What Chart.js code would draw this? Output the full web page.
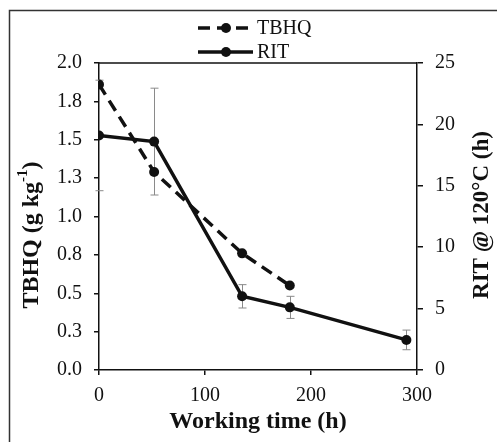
<!DOCTYPE html>
<html>
<head>
<meta charset="utf-8">
<script src="https://cdn.jsdelivr.net/npm/chart.js@4.4.1/dist/chart.umd.min.js"></script>
<style>
  html, body { margin: 0; padding: 0; background: #fff; overflow: hidden; }
  #wrap { width: 497px; height: 442px; }
  canvas { display: block; }
</style>
</head>
<body>
<div id="wrap"><canvas id="cv" width="497" height="442"></canvas></div>
<script>
  // data
  const tbhqHours = [0, 52, 135, 180];
  const tbhqValues = [1.86, 1.29, 0.76, 0.55];
  const ritHours = [0, 52, 135, 180, 290];
  const ritValues = [19.1, 18.6, 6.0, 5.1, 2.45];
  const ritErrors = [4.5, 4.35, 0.95, 0.9, 0.8];
  const tbhqTickLabels = ['0.0', '0.3', '0.5', '0.8', '1.0', '1.3', '1.5', '1.8', '2.0'];
  const legendNames = ['TBHQ', 'RIT'];

  const SERIF = "'Liberation Serif', 'Times New Roman', serif";
  const INK = '#111';

  const toPts = (xs, ys) => xs.map((x, i) => ({ x, y: ys[i] }));

  // gray error bars on RIT, drawn under the lines
  const errorBars = {
    id: 'errorBars',
    beforeDatasetsDraw(chart) {
      const { ctx } = chart;
      const xs = chart.scales.x, ys = chart.scales.y1;
      ctx.save();
      ctx.strokeStyle = '#8a8a8a';
      ctx.lineWidth = 1;
      ritHours.forEach((h, i) => {
        const px = Math.round(xs.getPixelForValue(h)) + 0.5;
        const top = ys.getPixelForValue(ritValues[i] + ritErrors[i]);
        const bot = ys.getPixelForValue(ritValues[i] - ritErrors[i]);
        ctx.beginPath();
        ctx.moveTo(px, top); ctx.lineTo(px, bot);
        ctx.moveTo(px - 4, top); ctx.lineTo(px + 4, top);
        ctx.moveTo(px - 4, bot); ctx.lineTo(px + 4, bot);
        ctx.stroke();
      });
      ctx.restore();
    },
  };

  // frame, top line of the plot box, legend and axis titles
  const decor = {
    id: 'decor',
    afterDraw(chart) {
      const { ctx, chartArea: a } = chart;
      ctx.save();
      ctx.fillStyle = '#fff';
      ctx.fillRect(494, 0, 3, 442);

      ctx.strokeStyle = '#333';
      ctx.lineWidth = 1.5;
      ctx.beginPath();
      ctx.moveTo(9.5, 442); ctx.lineTo(9.5, 10.5); ctx.lineTo(497, 10.5);
      ctx.stroke();

      ctx.strokeStyle = INK;
      ctx.lineWidth = 1.5;
      ctx.beginPath(); ctx.moveTo(a.left, a.top); ctx.lineTo(a.right, a.top); ctx.stroke();

      // legend
      const rows = [28, 52];
      chart.data.datasets.forEach((ds, i) => {
        const y = rows[i];
        ctx.strokeStyle = INK;
        ctx.lineWidth = 3.5;
        ctx.setLineDash(ds.borderDash || []);
        ctx.beginPath(); ctx.moveTo(198, y); ctx.lineTo(253, y); ctx.stroke();
        ctx.setLineDash([]);
        ctx.fillStyle = INK;
        ctx.beginPath(); ctx.arc(226, y, 5, 0, Math.PI * 2); ctx.fill();
        ctx.font = '20px ' + SERIF;
        ctx.textBaseline = 'middle';
        ctx.textAlign = 'left';
        ctx.fillText(legendNames[i], 257, y + 1);
      });

      // x title
      ctx.fillStyle = INK;
      ctx.font = 'bold 24px ' + SERIF;
      ctx.textAlign = 'center';
      ctx.textBaseline = 'middle';
      ctx.fillText('Working time (h)', 258, 422);

      // left title with superscript
      ctx.save();
      ctx.translate(30, 235);
      ctx.rotate(-Math.PI / 2);
      const big = 'bold 24px ' + SERIF, small = 'bold 15px ' + SERIF;
      const p1 = 'TBHQ (g kg', p2 = '-1', p3 = ')';
      ctx.font = big; const w1 = ctx.measureText(p1).width, w3 = ctx.measureText(p3).width;
      ctx.font = small; const w2 = ctx.measureText(p2).width;
      let x = -(w1 + w2 + w3) / 2;
      ctx.textAlign = 'left';
      ctx.textBaseline = 'alphabetic';
      ctx.font = big; ctx.fillText(p1, x, 8); x += w1;
      ctx.font = small; ctx.fillText(p2, x, -3); x += w2;
      ctx.font = big; ctx.fillText(p3, x, 8);
      ctx.restore();

      // right title, reads bottom to top
      ctx.save();
      ctx.translate(482, 215);
      ctx.rotate(-Math.PI / 2);
      ctx.font = 'bold 23px ' + SERIF;
      ctx.textAlign = 'center';
      ctx.textBaseline = 'middle';
      ctx.fillText('RIT @ 120°C (h)', 0, 0);
      ctx.restore();

      ctx.restore();
    },
  };

  const axisGrid = { drawOnChartArea: false, drawTicks: true, tickLength: 5, color: INK, lineWidth: 1.5 };
  const axisBorder = { display: true, color: INK, width: 1.5 };
  const tickFont = { family: SERIF, size: 20 };

  new Chart(document.getElementById('cv').getContext('2d'), {
    type: 'line',
    data: {
      datasets: [
        {
          label: 'TBHQ', data: toPts(tbhqHours, tbhqValues), yAxisID: 'y',
          borderColor: INK, backgroundColor: INK, borderWidth: 3.5, borderDash: [12, 7],
          pointRadius: 5, pointBackgroundColor: INK, pointBorderWidth: 0, tension: 0,
        },
        {
          label: 'RIT', data: toPts(ritHours, ritValues), yAxisID: 'y1',
          borderColor: INK, backgroundColor: INK, borderWidth: 3.5,
          pointRadius: 5, pointBackgroundColor: INK, pointBorderWidth: 0, tension: 0,
        },
      ],
    },
    options: {
      responsive: false,
      animation: false,
      devicePixelRatio: 1,
      layout: { padding: { top: 63, left: 0, right: 0, bottom: 0 } },
      plugins: { legend: { display: false }, tooltip: { enabled: false } },
      scales: {
        x: {
          type: 'linear', min: 0, max: 300,
          ticks: { stepSize: 100, color: INK, font: tickFont, padding: 9, maxRotation: 0 },
          grid: axisGrid, border: axisBorder,
          afterFit: (s) => { s.height = 72; },
        },
        y: {
          type: 'linear', position: 'left', min: 0, max: 2,
          ticks: {
            stepSize: 0.25, color: INK, font: tickFont, padding: 12,
            callback: (v, i) => tbhqTickLabels[i],
          },
          grid: axisGrid, border: axisBorder,
          afterFit: (s) => { s.width = 99; },
        },
        y1: {
          type: 'linear', position: 'right', min: 0, max: 25,
          ticks: { stepSize: 5, color: INK, font: tickFont, padding: 12 },
          grid: Object.assign({}, axisGrid, { tickLength: 6 }), border: axisBorder,
          afterFit: (s) => { s.width = 80; },
        },
      },
    },
    plugins: [errorBars, decor],
  });
</script>
</body>
</html>
